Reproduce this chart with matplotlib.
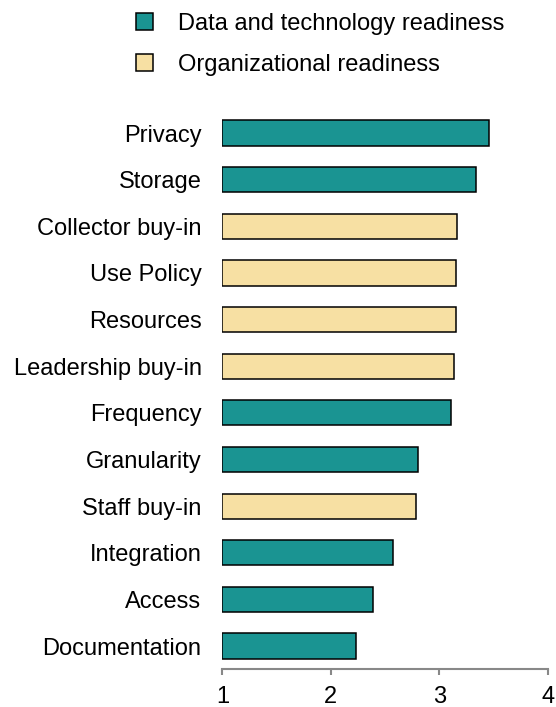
import numpy as np
import matplotlib.pyplot as plt
from matplotlib.patches import Patch

plt.rcParams['font.family'] = ['Liberation Sans', 'DejaVu Sans']

# data, bottom to top
labels = ['Documentation', 'Access', 'Integration', 'Staff buy-in', 'Granularity',
          'Frequency', 'Leadership buy-in', 'Resources', 'Use Policy',
          'Collector buy-in', 'Storage', 'Privacy']
scores = [2.23, 2.39, 2.57, 2.79, 2.80, 3.11, 3.14, 3.15, 3.15, 3.16, 3.34, 3.46]
group = ['data', 'data', 'data', 'org', 'data', 'data', 'org', 'org', 'org',
         'org', 'data', 'data']

teal = '#1a9492'
sand = '#f7e0a3'
colors = [teal if g == 'data' else sand for g in group]

fig = plt.figure(figsize=(5.56, 7.07), dpi=100)
ax = fig.add_axes([0.400, 0.0533, 0.585, 0.7915])

y = np.arange(len(labels))
ax.barh(y, np.array(scores) - 1, left=1, height=0.54, color=colors,
        edgecolor='black', linewidth=1.1)

ax.set_xlim(1, 4)
ax.set_ylim(-0.5, 11.5)
ax.set_yticks(y)
ax.set_yticklabels(labels, fontsize=17)
ax.tick_params(axis='y', length=0, pad=15)
ax.set_xticks([1, 2, 3, 4])
ax.set_xticklabels(['1', '2', '3', '4'], fontsize=17)
ax.tick_params(axis='x', length=4, width=1.5, color='#888888', pad=8)

for s in ['top', 'right', 'left']:
    ax.spines[s].set_visible(False)
ax.spines['bottom'].set_color('#888888')
ax.spines['bottom'].set_linewidth(1.5)
ax.spines['bottom'].set_bounds(1, 4)

handles = [Patch(facecolor=teal, edgecolor='black', linewidth=1.1),
           Patch(facecolor=sand, edgecolor='black', linewidth=1.1)]
fig.legend(handles, ['Data and technology readiness', 'Organizational readiness'],
           loc='upper left', bbox_to_anchor=(0.206, 1.012), frameon=False,
           fontsize=17, handlelength=0.72, handleheight=0.72,
           handletextpad=1.05, labelspacing=0.8)

fig.savefig('out.png', dpi=100)
